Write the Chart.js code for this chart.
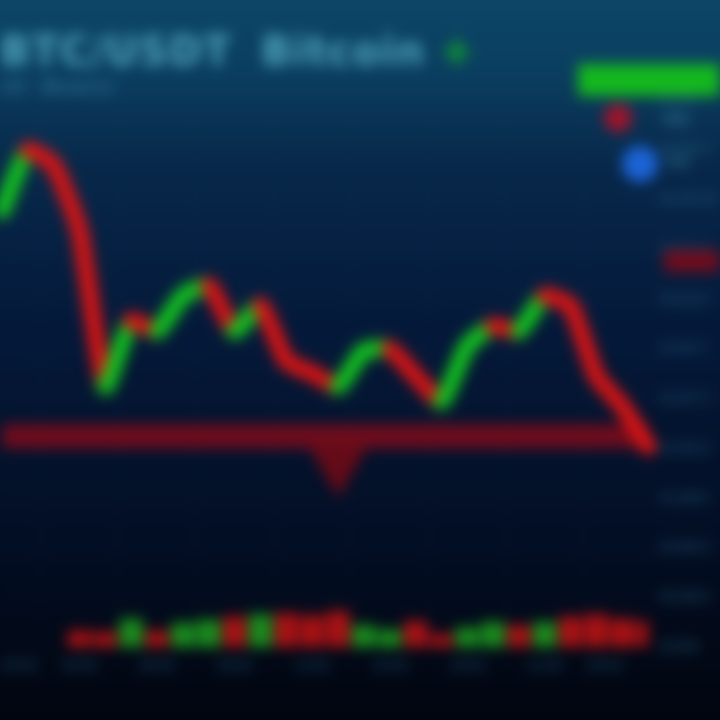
<!DOCTYPE html>
<html>
<head>
<meta charset="utf-8">
<script src="https://cdn.jsdelivr.net/npm/chart.js@4.4.0/dist/chart.umd.min.js"></script>
<style>
  html, body { margin: 0; padding: 0; width: 720px; height: 720px; overflow: hidden; background: #020814; }
  #wrap {
    position: absolute; left: -20px; top: -20px; width: 760px; height: 760px;
    background: linear-gradient(180deg, #0c4868 0%, #0a3e60 12%, #07284a 24%, #04193a 45%, #020d22 75%, #01040c 100%);
    filter: blur(7px);
  }
  #box { position: absolute; left: 20px; top: 20px; width: 720px; height: 720px; }
  #title { position: absolute; left: 0; top: 28px; font: bold 40px "DejaVu Sans", sans-serif; color: #4ea3bb; letter-spacing: 1px; }
  #title .pct { color: #11b422; }
  #sub { position: absolute; left: 0; top: 76px; font: 18px "DejaVu Sans", sans-serif; color: #3c88a8; }
  #panel { position: absolute; left: 578px; top: 64px; width: 142px; }
  .bar { height: 32px; background: #14b81e; }
  .row { position: relative; height: 46px; font: 16px "DejaVu Sans", sans-serif; color: #3f8aa6; }
  .dot { position: absolute; border-radius: 50%; }
  #pricetag { position: absolute; left: 664px; top: 250px; width: 56px; height: 22px; background: #700c1c; }
  #myChart { position: absolute; left: -32px; top: 0; }
</style>
</head>
<body>
<div id="wrap">
  <div id="box">
    <canvas id="myChart" width="752" height="720"></canvas>
    <div id="title">BTC/USDT &nbsp;Bitcoin <span class="pct">+</span></div>
    <div id="sub">1H · Binance</div>
    <div id="panel">
      <div class="bar"></div>
      <div class="row"><span class="dot" style="left:26px;top:8px;width:28px;height:28px;background:#a0142a"></span><span style="position:absolute;left:86px;top:14px">MA</span></div>
      <div class="row"><span class="dot" style="left:44px;top:4px;width:36px;height:36px;background:#1b64d6"></span><span style="position:absolute;left:88px;top:10px">Vol</span></div>
    </div>
    <div id="pricetag"></div>
  </div>
</div>
<script>
const labels = ['00:00', '01:00', '02:00', '03:00', '04:00', '05:00', '06:00', '07:00', '08:00', '09:00',
  '10:00', '11:00', '12:00', '13:00', '14:00', '15:00', '16:00', '17:00', '18:00', '19:00',
  '20:00', '21:00', '22:00', '23:00', '00:00', '01:00'];
const prices = [44300, 44900, 44750, 44100, 42550, 43200, 43100, 43450, 43550, 43100,
  43350, 42800, 42680, 42550, 42900, 42920, 42650, 42400, 42950, 43150,
  43100, 43450, 43350, 42650, 42350, 41950];
const volumes = [0, 0, 0, 150, 140, 260, 150, 220, 250, 280,
  300, 310, 290, 330, 200, 160, 240, 120, 180, 230,
  200, 230, 280, 300, 260, 240];
const supportLevel = 42050;
const markerIndex = 13;
const markerPrice = 41780;

const green = '#13c21f';
const red = '#d81414';

const volColors = prices.map((p, i) => (i > 0 && p >= prices[i - 1]) ? 'rgba(30,165,30,0.85)' : 'rgba(200,20,20,0.85)');

const ctx = document.getElementById('myChart').getContext('2d');

new Chart(ctx, {
  type: 'line',
  data: {
    labels: labels,
    datasets: [{
      label: 'Price',
      data: prices,
      borderWidth: 17,
      pointRadius: 0,
      tension: 0.15,
      borderCapStyle: 'round',
      borderJoinStyle: 'round',
      segment: {
        borderColor: c => c.p1.parsed.y >= c.p0.parsed.y ? green : red
      },
      yAxisID: 'y',
      order: 1
    }, {
      label: 'Support',
      data: labels.map(() => supportLevel),
      borderColor: '#6e0c1c',
      borderWidth: 24,
      pointRadius: 0,
      yAxisID: 'y',
      order: 3
    }, {
      label: 'Marker',
      data: labels.map((l, i) => i === markerIndex ? markerPrice : null),
      borderColor: 'rgba(0,0,0,0)',
      pointStyle: 'triangle',
      rotation: 180,
      pointRadius: 34,
      pointBackgroundColor: '#640b18',
      pointBorderWidth: 0,
      yAxisID: 'y',
      order: 2
    }, {
      type: 'bar',
      label: 'Vol',
      data: volumes,
      backgroundColor: volColors,
      barPercentage: 0.9,
      categoryPercentage: 1,
      yAxisID: 'y1',
      order: 4
    }]
  },
  options: {
    responsive: false,
    animation: false,
    layout: { padding: { top: 100, left: 0, right: 0, bottom: 42 } },
    plugins: {
      legend: { display: false },
      tooltip: { enabled: false }
    },
    scales: {
      x: {
        offset: false,
        grid: { color: 'rgba(60,130,170,0.10)' },
        border: { display: false },
        ticks: { color: '#1f5a7a', font: { size: 14 }, maxRotation: 0, align: 'inner', autoSkip: true, maxTicksLimit: 10 }
      },
      y: {
        position: 'right',
        min: 39950,
        max: 45400,
        grid: { color: 'rgba(60,130,170,0.10)' },
        border: { display: false },
        ticks: { color: '#2a6a8a', font: { size: 13 }, stepSize: 500 }
      },
      y1: {
        display: false,
        min: 0,
        max: 5000
      }
    }
  }
});
</script>
</body>
</html>
